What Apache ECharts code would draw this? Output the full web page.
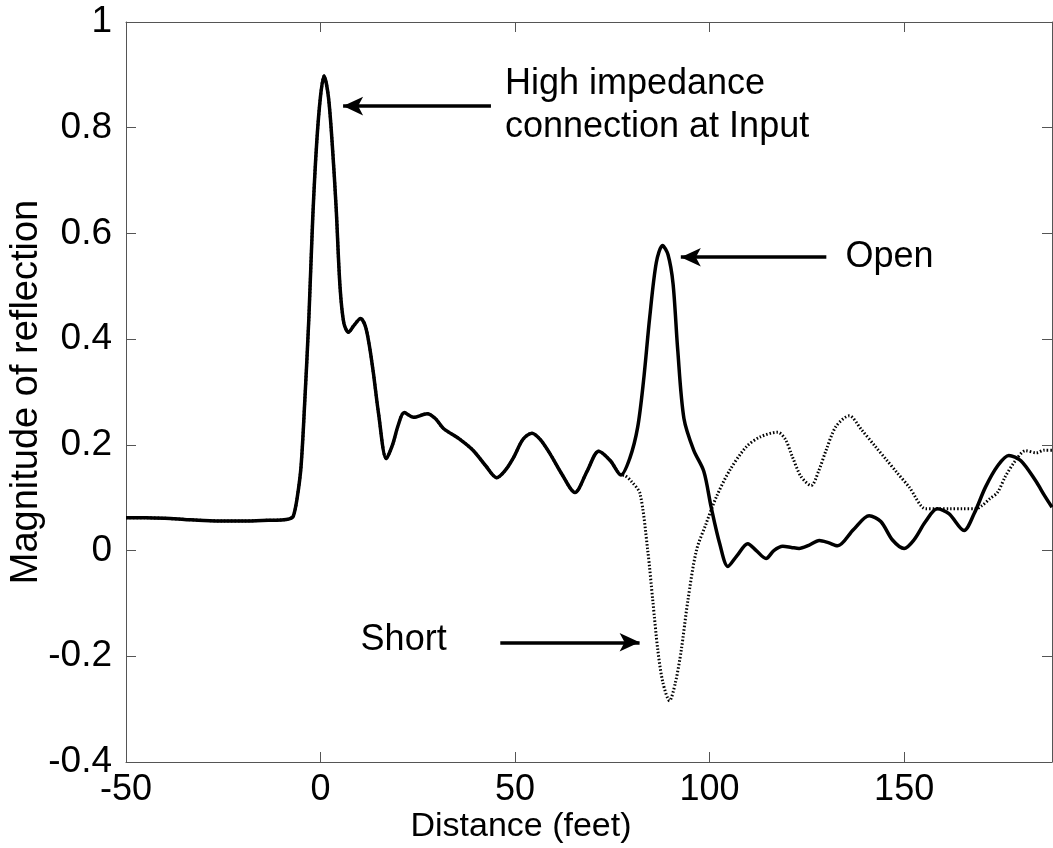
<!DOCTYPE html>
<html>
<head>
<meta charset="utf-8">
<script src="https://cdn.jsdelivr.net/npm/echarts@6/dist/echarts.min.js"></script>
<style>
  html, body { margin: 0; padding: 0; background: #fff; }
  #chart { width: 1053px; height: 848px; }
</style>
</head>
<body>
<div id="chart"></div>
<script>
// distance (feet) / magnitude, shared part of both traces
var commonDist = [-50, -45, -40, -35, -30, -25, -20, -15, -10, -8, -7, -6, -5, -4, -3, -2, -1, 0, 0.9, 2, 3, 4, 5, 6, 7.2, 8.5, 10.3, 11.5, 12.5, 13.6, 14.9, 16.9, 18.5, 20, 21.5, 23.9, 27.4, 29.5, 31.6, 35.9, 39.3, 42.5, 45.3, 47.5, 49.6, 52, 54.3, 56.5, 59, 62, 65.4, 68.5, 71.5, 74.5, 77.2];
var commonMag = [0.062, 0.062, 0.061, 0.059, 0.057, 0.056, 0.056, 0.057, 0.058, 0.060, 0.065, 0.10, 0.16, 0.29, 0.44, 0.63, 0.77, 0.86, 0.898, 0.86, 0.77, 0.65, 0.50, 0.43, 0.413, 0.425, 0.439, 0.425, 0.39, 0.335, 0.26, 0.174, 0.20, 0.238, 0.261, 0.252, 0.259, 0.25, 0.231, 0.21, 0.189, 0.16, 0.138, 0.152, 0.176, 0.21, 0.222, 0.21, 0.183, 0.145, 0.11, 0.15, 0.188, 0.17, 0.143];

// open termination (solid)
var openDist = [79.5, 81.5, 83, 84.6, 86.3, 87.9, 89.3, 90.6, 91.8, 93.4, 95.9, 98.5, 100.4, 102.6, 104.7, 107, 109.8, 112, 114.5, 116.5, 118.8, 121, 123, 125.5, 128.2, 130.5, 132.9, 137, 141, 144, 147, 150, 152.5, 155.5, 158.5, 161.5, 165.4, 168, 170.9, 174, 176.9, 180, 183.8, 186, 188];
var openMag = [0.175, 0.233, 0.32, 0.441, 0.545, 0.577, 0.56, 0.505, 0.38, 0.25, 0.19, 0.15, 0.082, 0.013, -0.030, -0.01, 0.013, 0.0, -0.015, 0.0, 0.008, 0.006, 0.004, 0.01, 0.019, 0.015, 0.009, 0.04, 0.066, 0.055, 0.02, 0.004, 0.02, 0.055, 0.079, 0.07, 0.038, 0.07, 0.12, 0.16, 0.18, 0.17, 0.132, 0.105, 0.082];

// short termination (dotted)
var shortDist = [78.2, 80, 82.1, 84.1, 85.4, 86.7, 88, 89.7, 91.2, 92.7, 94.4, 96.6, 99.1, 101.7, 105.1, 109.4, 113, 117.5, 119.5, 121.3, 123.5, 126.1, 128, 129.9, 132.5, 135.9, 139, 142.7, 145.3, 148, 151.3, 155.6, 158.5, 162, 165, 168.4, 170, 172, 174, 176, 178.6, 181.2, 184, 186, 188];
var shortMag = [0.142, 0.13, 0.108, 0.0, -0.095, -0.189, -0.25, -0.284, -0.25, -0.189, -0.095, 0.0, 0.051, 0.101, 0.151, 0.196, 0.215, 0.224, 0.21, 0.177, 0.14, 0.123, 0.15, 0.189, 0.235, 0.255, 0.229, 0.196, 0.173, 0.149, 0.12, 0.079, 0.079, 0.079, 0.079, 0.079, 0.085, 0.098, 0.11, 0.14, 0.170, 0.189, 0.185, 0.19, 0.19];

var xTicks = [-50, 0, 50, 100, 150];
var yTicks = [-0.4, -0.2, 0, 0.2, 0.4, 0.6, 0.8, 1];

// annotations: [text, x, y] and arrows: [fromX, toX, y]
var notes = [
  ['High impedance\nconnection at Input', 47.4, 0.841],
  ['Open', 134.9, 0.556],
  ['Short', 10.3, -0.170]
];
var arrows = [
  [43.8, 5.8, 0.841],
  [130, 92.6, 0.555],
  [46.2, 82.0, -0.1735]
];

function pairs(xs, ys) {
  var out = [];
  for (var i = 0; i < xs.length; i++) out.push([xs[i], ys[i]]);
  return out;
}

var openData = pairs(commonDist, commonMag).concat(pairs(openDist, openMag));
var shortData = pairs(commonDist, commonMag).concat(pairs(shortDist, shortMag));

var font = "'Liberation Sans', Arial, sans-serif";
var axisColor = '#555';
var frameLine = { show: true, onZero: false, lineStyle: { color: axisColor, width: 1 } };
var frameTick = { show: true, inside: true, length: 10, lineStyle: { color: axisColor } };

var chart = echarts.init(document.getElementById('chart'));
chart.setOption({
  animation: false,
  backgroundColor: '#fff',
  grid: { left: 126, right: 1, top: 22, bottom: 86, containLabel: false, outerBoundsMode: 'none' },
  xAxis: [{
    type: 'value',
    min: xTicks[0],
    max: 188,
    interval: 50,
    name: 'Distance (feet)',
    nameLocation: 'middle',
    nameGap: 48,
    nameMoveOverlap: false,
    nameTextStyle: { fontFamily: font, fontSize: 34, color: '#000', padding: [0, 136, 0, 0] },
    axisLine: frameLine,
    axisTick: frameTick,
    axisLabel: { fontFamily: font, fontSize: 36, color: '#000', margin: 10, showMaxLabel: false },
    splitLine: { show: false }
  }, {
    type: 'value',
    position: 'top',
    min: xTicks[0],
    max: 188,
    interval: 50,
    axisLine: frameLine,
    axisTick: frameTick,
    axisLabel: { show: false },
    splitLine: { show: false }
  }],
  yAxis: [{
    type: 'value',
    min: yTicks[0],
    max: yTicks[yTicks.length - 1],
    interval: 0.2,
    name: 'Magnitude of reflection',
    nameLocation: 'middle',
    nameGap: 80,
    nameMoveOverlap: false,
    nameTextStyle: { fontFamily: font, fontSize: 38, color: '#000' },
    axisLine: frameLine,
    axisTick: frameTick,
    axisLabel: { fontFamily: font, fontSize: 37, color: '#000', margin: 14 },
    splitLine: { show: false }
  }, {
    type: 'value',
    position: 'right',
    min: yTicks[0],
    max: yTicks[yTicks.length - 1],
    interval: 0.2,
    axisLine: frameLine,
    axisTick: frameTick,
    axisLabel: { show: false },
    splitLine: { show: false }
  }],
  series: [{
    name: 'Short',
    type: 'line',
    data: shortData,
    showSymbol: false,
    smooth: 0.3,
    lineStyle: { color: '#000', width: 3, type: [1.5, 2] },
    z: 2
  }, {
    name: 'Open',
    type: 'line',
    data: openData,
    showSymbol: false,
    smooth: 0.3,
    lineStyle: { color: '#000', width: 3.5 },
    z: 3,
    markLine: {
      silent: true,
      symbol: ['none', 'arrow'],
      symbolSize: [14, 20],
      lineStyle: { color: '#000', width: 3.5, type: 'solid' },
      label: { show: false },
      data: arrows.map(function (a) {
        return [{ coord: [a[0], a[2]] }, { coord: [a[1], a[2]] }];
      })
    },
    markPoint: {
      silent: true,
      symbol: 'circle',
      symbolSize: 0,
      label: {
        show: true,
        position: 'right',
        distance: 0,
        fontFamily: font,
        fontSize: 36,
        lineHeight: 43,
        color: '#000',
        align: 'left',
        formatter: function (p) { return p.name; }
      },
      data: notes.map(function (n) {
        return { name: n[0], coord: [n[1], n[2]] };
      })
    }
  }]
});
</script>
</body>
</html>
